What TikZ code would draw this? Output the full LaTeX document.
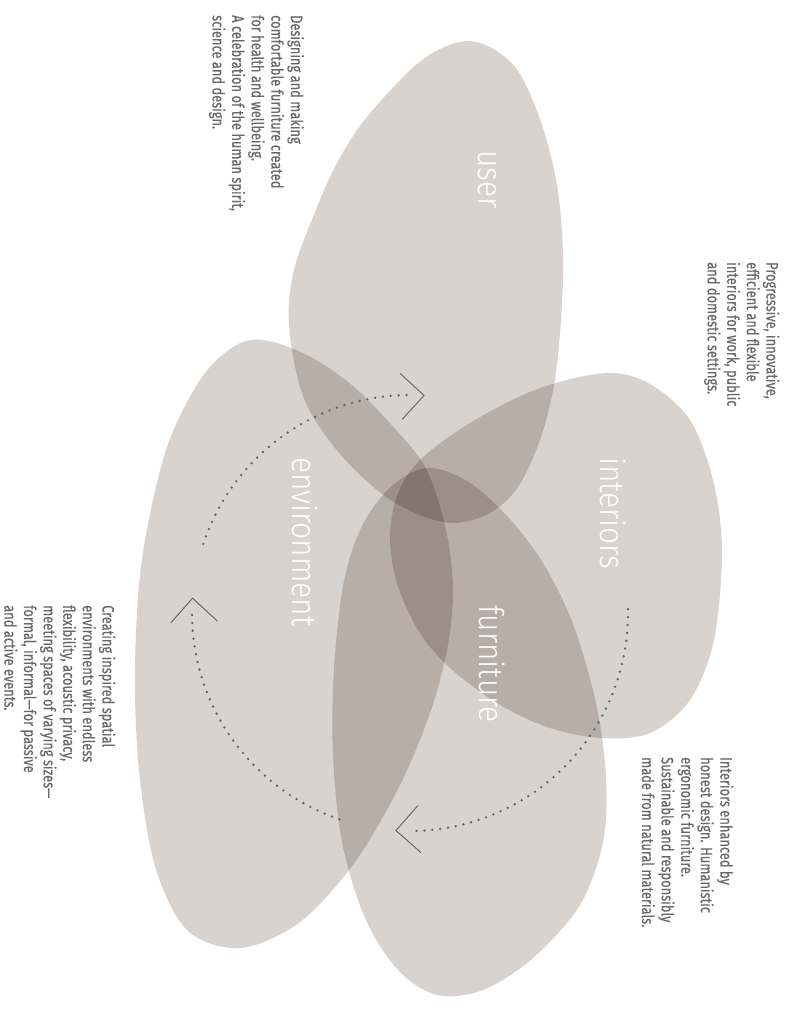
\documentclass[tikz,border=0pt]{standalone}
\usepackage{fontspec}
\setmainfont{Fira Sans}
\newfontfamily\petalfont[FakeStretch=0.88]{Fira Sans Light}
\newfontfamily\blurbfont[FakeStretch=0.78, FakeBold=0.4, Ligatures=TeX]{Fira Sans}
\definecolor{petal}{HTML}{D9D3CF}
\definecolor{blurbgray}{HTML}{68686A}
\definecolor{dotgray}{HTML}{65615F}
\tikzset{
  petal/.style={fill=petal, blend mode=multiply},
  petal label/.style={rotate=-90, anchor=base west, inner sep=0pt, text=white,
    font=\petalfont\fontsize{34}{34}\selectfont},
  blurb/.style={rotate=-90, anchor=north west, inner sep=0pt, align=left, text=blurbgray,
    font=\blurbfont\fontsize{16.5}{19.6}\selectfont},
  cycle dots/.style={draw=dotgray, line width=2.6pt, line cap=round, dash pattern=on 0pt off 7.9pt},
  chevron/.style={draw=dotgray, line width=0.9pt}
}
\begin{document}
\begin{tikzpicture}[x=1pt, y=-1pt]
  \useasboundingbox (0,0) rectangle (787,1011);
  % the four petals
  \fill[petal] plot[smooth cycle, tension=0.55] coordinates {(468,41) (495,50) (520,74) (542,125)
    (557,185) (563,253) (561,320) (554,385) (540,440) (518,487) (490,513) (453,523) (415,513)
    (377,490) (335,448) (303,396) (289,325) (294,270) (315,212) (336,165) (363,122) (408,72)
    (438,50)};
  \fill[petal] plot[smooth cycle, tension=0.55] coordinates {(607,373) (650,384) (690,420) (713,480)
    (722,550) (714,640) (690,700) (650,733) (600,738) (547,727) (497,703) (449,667) (418,630)
    (397,583) (390,537) (398,493) (422,458) (475,420) (540,388)};
  \fill[petal] plot[smooth cycle, tension=0.55] coordinates {(428,468) (467,481) (507,516) (543,563)
    (573,624) (596,703) (606,777) (603,842) (580,905) (533,958) (483,990) (437,995) (398,970)
    (365,918) (342,842) (333,755) (334,668) (344,581) (363,524) (393,485)};
  \fill[petal] plot[smooth cycle, tension=0.55] coordinates {(263,340) (307,355) (353,386) (398,432)
    (424,465) (439,503) (449,546) (453,595) (447,650) (430,713) (400,785) (355,862) (300,922)
    (240,948) (187,930) (155,866) (139,770) (135,668) (142,559) (166,450) (200,380) (233,347)};

  \node[petal label] (user) at (478,150) {user};
  \node[petal label] (interiors) at (600,457) {interiors};
  \node[petal label] (furniture) at (479,605) {furniture};
  \node[petal label] (environment) at (292,457) {environment};

  % dotted cycle
  \coordinate (hub) at (410,613);
  \draw[cycle dots] ([shift={(198.5:218)}]hub) arc[start angle=198.5, end angle=270, radius=218];
  \draw[cycle dots] ([shift={(-1:218)}]hub) arc[start angle=-1, end angle=90, radius=218];
  \draw[cycle dots] ([shift={(108.9:218)}]hub) arc[start angle=108.9, end angle=180, radius=218];
  \coordinate (tip1) at ([shift={(273.7:218)}]hub);
  \coordinate (tip2) at ([shift={(93.7:218)}]hub);
  \coordinate (tip3) at ([shift={(183.9:218)}]hub);
  \draw[chevron] ([shift={(-24,-22)}]tip1) -- (tip1) -- ([shift={(-22,24)}]tip1);
  \draw[chevron] ([shift={(22,-25)}]tip2) -- (tip2) -- ([shift={(25,22)}]tip2);
  \draw[chevron] ([shift={(-22,25)}]tip3) -- (tip3) -- ([shift={(25,23)}]tip3);

  \node[blurb] (user text) at (304,15) {Designing and making\\comfortable furniture created\\for health and wellbeing.\\A celebration of the human spirit,\\science and design.};
  \node[blurb] (interiors text) at (779.5,262) {Progressive, innovative,\\efficient and flexible\\interiors for work, public\\and domestic settings.};
  \node[blurb] (furniture text) at (733.5,757) {Interiors enhanced by\\honest design. Humanistic\\ergonomic furniture.\\Sustainable and responsibly\\made from natural materials.};
  \node[blurb] (environment text) at (115.5,605) {Creating inspired spatial\\environments with endless\\flexibility, acoustic privacy,\\meeting spaces of varying sizes---\\formal, informal---for passive\\and active events.};
\end{tikzpicture}
\end{document}
